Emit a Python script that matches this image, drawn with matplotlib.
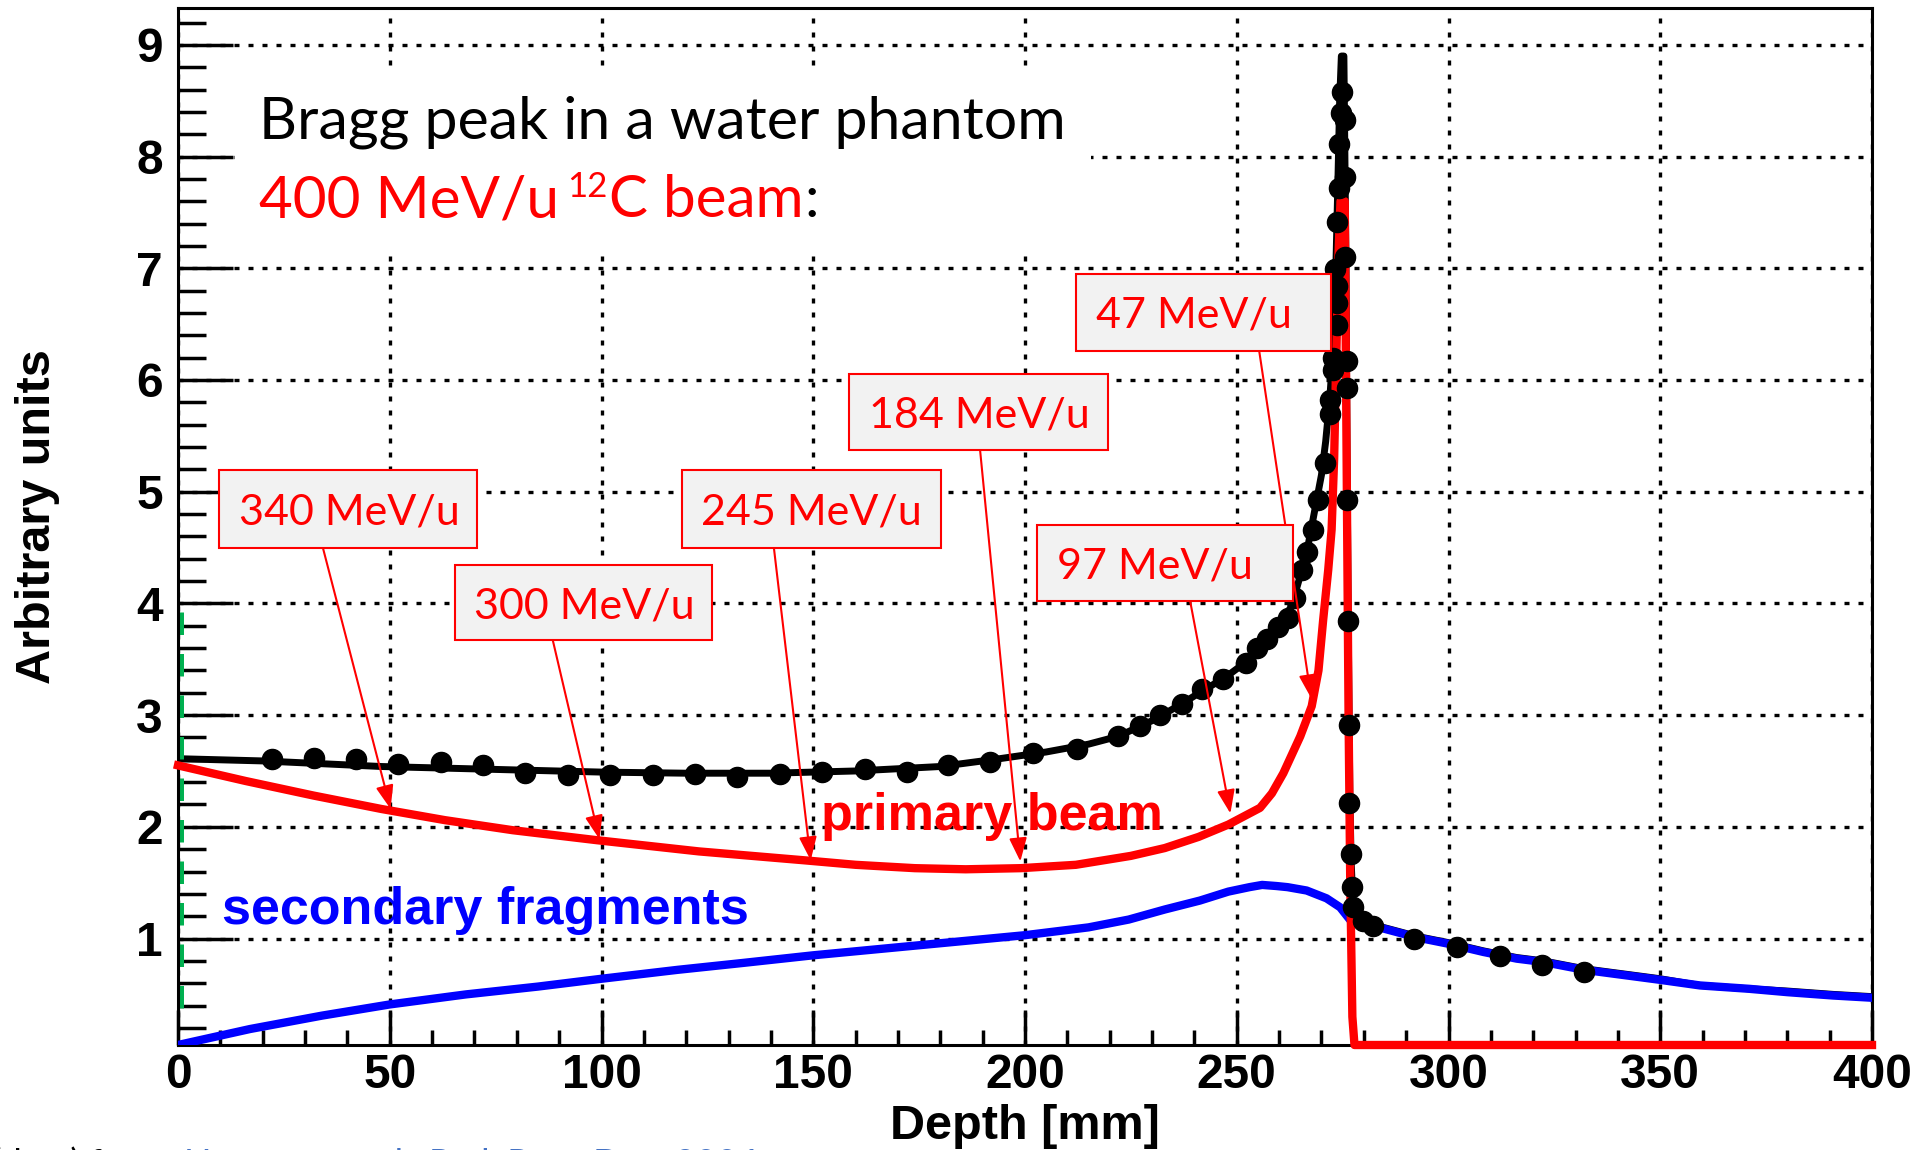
import numpy as np
import matplotlib
matplotlib.use("Agg")
import matplotlib.pyplot as plt
from matplotlib.patches import Rectangle
from matplotlib.ticker import MultipleLocator

# ---------------- data ----------------
depth_total = [0, 20, 48, 79, 100, 120, 140, 160, 180, 194, 205, 215, 222, 230, 237,
               242, 247, 252, 256, 260, 263, 265, 267, 268.5, 270, 271, 272, 272.8, 273.4,
               273.9, 274.3, 274.7, 275.3, 275.8, 276.1, 276.4, 276.7, 277.0, 277.4, 278.2,
               280, 284.6, 292.5, 300.4, 308.2, 316.1, 322.4, 332, 340, 350, 359.4, 371,
               380, 390.8, 400]
dose_total = [2.61, 2.59, 2.54, 2.51, 2.49, 2.48, 2.48, 2.50, 2.54, 2.61, 2.67, 2.74, 2.81,
              2.95, 3.10, 3.22, 3.33, 3.47, 3.63, 3.80, 3.98, 4.25, 4.55, 4.85, 5.15, 5.45,
              5.85, 6.30, 7.00, 7.80, 8.50, 8.90, 8.90, 7.00, 5.00, 3.50, 2.30, 1.70, 1.35,
              1.22, 1.15, 1.10, 1.02, 0.96, 0.89, 0.83, 0.80, 0.73, 0.69, 0.64, 0.58, 0.55,
              0.53, 0.50, 0.48]

depth_primary = [0, 16, 32, 48, 63, 79, 99, 123, 148, 160, 174, 186, 199, 212, 225, 233,
                 241, 248, 255.5, 258.3, 261, 265, 267.7, 269.3, 270.4, 271.6, 272.4, 273.0,
                 273.5, 274.0, 274.5, 275.5, 276.0, 276.4, 276.8, 277.3, 277.8, 300, 350, 400]
dose_primary = [2.55, 2.41, 2.28, 2.16, 2.06, 1.97, 1.88, 1.78, 1.70, 1.66, 1.63, 1.62, 1.63,
                1.66, 1.74, 1.81, 1.91, 2.02, 2.17, 2.30, 2.48, 2.81, 3.08, 3.40, 3.85, 4.30,
                4.66, 5.30, 6.20, 7.10, 7.60, 7.60, 5.00, 3.00, 1.50, 0.30, 0.0, 0.0, 0.0, 0.0]

depth_secondary = [0, 17, 34, 50, 68, 85, 100, 118, 133, 150, 175, 200, 215, 224.5, 233,
                   241.3, 248, 253, 256, 259.4, 262, 266.5, 271.2, 274.4, 276.7, 280, 284.6,
                   292.5, 300.4, 308.2, 316.1, 322.4, 332, 340, 350, 359.4, 371, 380, 390.8, 400]
dose_secondary = [0.04, 0.19, 0.31, 0.41, 0.50, 0.57, 0.64, 0.72, 0.78, 0.85, 0.94, 1.03,
                  1.10, 1.17, 1.26, 1.34, 1.42, 1.46, 1.48, 1.47, 1.46, 1.43, 1.36, 1.28,
                  1.17, 1.13, 1.09, 1.01, 0.95, 0.88, 0.82, 0.79, 0.72, 0.68, 0.63, 0.58,
                  0.55, 0.52, 0.49, 0.47]

depth_points = [22.1, 32.0, 42.0, 52.0, 62.0, 72.1, 81.9, 92.2, 102.0, 112.1, 122.1, 132.1,
                142.1, 152.0, 162.2, 172.1, 181.9, 191.7, 202.0, 212.2, 222.0, 227.2, 231.9,
                237.0, 241.7, 246.8, 252.2, 254.7, 257.1, 259.8, 262.2, 263.8, 265.3, 266.5,
                268.1, 269.3, 270.8, 272.0, 272.0, 272.7, 272.8, 273.6, 273.7, 273.7, 273.3,
                273.6, 274.2, 274.2, 274.5, 274.8, 275.5, 275.5, 275.5, 276.0, 276.0, 276.0,
                276.3, 276.6, 276.6, 277.0, 277.1, 277.4, 279.8, 282.2, 291.8, 301.9, 312.2,
                322.0, 332.0]
dose_points = [2.61, 2.62, 2.61, 2.56, 2.58, 2.55, 2.48, 2.46, 2.46, 2.46, 2.47, 2.45, 2.47,
               2.49, 2.52, 2.49, 2.55, 2.58, 2.66, 2.70, 2.81, 2.90, 3.00, 3.10, 3.23, 3.32,
               3.47, 3.60, 3.68, 3.79, 3.87, 4.05, 4.30, 4.46, 4.66, 4.93, 5.26, 5.70, 5.82,
               6.09, 6.20, 6.49, 6.69, 6.84, 6.99, 7.41, 7.72, 8.11, 8.39, 8.58, 8.33, 7.82,
               7.10, 6.17, 5.93, 4.93, 3.84, 2.91, 2.21, 1.76, 1.46, 1.28, 1.16, 1.11, 1.00,
               0.92, 0.84, 0.76, 0.70]

energy_labels = ["340 MeV/u", "300 MeV/u", "245 MeV/u", "184 MeV/u", "97 MeV/u", "47 MeV/u"]

x_ticks = [0, 50, 100, 150, 200, 250, 300, 350, 400]
y_ticks = [1, 2, 3, 4, 5, 6, 7, 8, 9]

# ---------------- layout / annotation geometry ----------------
# box (x0, x1, y0, y1) and arrow (start x, start y, tip x, tip y)
label_boxes = [(9.6, 70.5, 4.50, 5.19), (65.3, 126.2, 3.67, 4.34), (118.9, 180.1, 4.50, 5.19),
               (158.4, 219.6, 5.37, 6.05), (202.9, 263.4, 4.02, 4.70), (212.0, 272.2, 6.26, 6.95)]
label_arrows = [(34.2, 4.50, 50.2, 2.16), (88.5, 3.67, 99.5, 1.89), (140.7, 4.50, 149.4, 1.70),
                (189.4, 5.37, 198.9, 1.69), (239.0, 4.02, 248.5, 2.12), (255.3, 6.26, 267.6, 3.15)]

RED = "#FF0000"
BLUE = "#0000FF"
ARIAL = "Liberation Sans"
CAL = "Lato"
XLIM = (0, 400)
YLIM = (0.047, 9.33)

fig = plt.figure(figsize=(19.26, 11.5), dpi=100)
ax = fig.add_axes([178 / 1926, 105 / 1150, 1694 / 1926, 1037 / 1150])
ax.set_xlim(*XLIM)
ax.set_ylim(*YLIM)

# grid
ax.set_axisbelow(True)
ax.grid(True, which="major", color="black", linestyle=(0, (1.5, 2.7)), linewidth=2.4)

# white box behind the title (hides grid)
ax.add_patch(Rectangle((13.5, 7.12), 202.0, 1.68, facecolor="white", edgecolor="none",
                       zorder=1))

# curves
ax.plot(depth_total, dose_total, color="black", lw=5, zorder=2)
ax.plot(depth_secondary, np.maximum(dose_secondary, YLIM[0]), color=BLUE, lw=6, zorder=2.6)
ax.plot(depth_primary, np.maximum(dose_primary, YLIM[0]), color=RED, lw=6, zorder=3,
        clip_on=False)
ax.plot(depth_points, dose_points, "o", color="black", ms=14.5, mec="black", zorder=4)

# green dashed marker along the entrance
ax.plot([0.7, 0.7], [3.92, 0.32], color="#00B050", lw=3.6, dashes=(4.5, 3.8), zorder=2.4,
        clip_on=False, solid_capstyle="butt", dash_capstyle="butt")

# energy annotation boxes
cap = 0.7165 * 31 * (100 / 72) / 111.7
for lab, (x0, x1, y0, y1), (sx, sy, tx, ty) in zip(energy_labels, label_boxes, label_arrows):
    ax.annotate("", xy=(tx, ty), xytext=(sx, sy),
                arrowprops=dict(arrowstyle="-|>,head_length=0.72,head_width=0.27",
                                color=RED, lw=1.5, mutation_scale=20,
                                shrinkA=0, shrinkB=0), zorder=5)
    ax.add_patch(Rectangle((x0, y0), x1 - x0, y1 - y0, facecolor="#F2F2F2", edgecolor=RED,
                           lw=1.5, zorder=6))
    ax.text(x0 + 4.7, (y0 + y1) / 2 - cap / 2, lab, color=RED, fontsize=31, family=CAL,
            ha="left", va="baseline", zorder=7)

# title
ax.text(19.1, 8.16, "Bragg peak in a water phantom", color="black", fontsize=42.5,
        family=CAL, ha="left", va="baseline", zorder=7)
t1 = ax.text(19.1, 7.457, "400 MeV/u", color=RED, fontsize=42, family=CAL,
             ha="left", va="baseline", zorder=7)
t2 = ax.annotate("12", xy=(1, 7.64), xycoords=(t1, "data"), xytext=(6, 0),
                 textcoords="offset points", color=RED, fontsize=25, family=CAL,
                 ha="left", va="baseline", zorder=7)
t3 = ax.annotate("C beam", xy=(1, 7.457), xycoords=(t2, "data"), xytext=(1, 0),
                 textcoords="offset points", color=RED, fontsize=42, family=CAL,
                 ha="left", va="baseline", zorder=7)
ax.annotate(":", xy=(1, 7.457), xycoords=(t3, "data"), xytext=(1, 0),
            textcoords="offset points", color="black", fontsize=42, family=CAL,
            ha="left", va="baseline", zorder=7)

# curve labels
ax.text(151.9, 1.97, "primary beam", color=RED, fontsize=37.5, fontweight="bold",
        family=ARIAL, ha="left", va="baseline", zorder=7)
ax.text(10.4, 1.13, "secondary fragments", color=BLUE, fontsize=37.5, fontweight="bold",
        family=ARIAL, ha="left", va="baseline", zorder=7)

# axes styling
for sp in ax.spines.values():
    sp.set_linewidth(2.2)
    sp.set_color("black")
    sp.set_zorder(2.5)

ax.set_xticks(x_ticks)
ax.set_xticklabels([str(v) for v in x_ticks])
ax.set_yticks(y_ticks)
ax.set_yticklabels([str(v) for v in y_ticks])
ax.xaxis.set_minor_locator(MultipleLocator(10))
ax.yaxis.set_minor_locator(MultipleLocator(0.2))
ax.tick_params(axis="both", which="both", direction="in", top=False, right=False,
               color="black", width=2.5)
ax.tick_params(axis="x", which="major", length=25, pad=5.5, labelsize=34.5)
ax.tick_params(axis="x", which="minor", length=11)
ax.tick_params(axis="y", which="major", length=39.6, pad=10.8, labelsize=34.5)
ax.tick_params(axis="y", which="minor", length=20)
for lbl in ax.get_xticklabels() + ax.get_yticklabels():
    lbl.set_fontweight("bold")
    lbl.set_family(ARIAL)

ax.set_xlabel("Depth [mm]", fontsize=35, fontweight="bold", family=ARIAL)
ax.xaxis.set_label_coords(0.5, -0.079)
ax.xaxis.label.set_va("center")
ax.set_ylabel("Arbitrary units", fontsize=35, fontweight="bold", family=ARIAL)
ax.yaxis.set_label_coords(-0.0832, 0.510)
ax.yaxis.label.set_va("center")
ax.yaxis.label.set_ha("center")

# source line (mostly cut off at the bottom edge, as in the reference)
fig.text(165 / 1926, -0.022, "(data) from", color="black", fontsize=26, family=CAL,
         ha="right", va="baseline")
fig.text(184 / 1926, -0.022, "Haettner et al., Rad. Prot. Dos. 2006", color="#4472C4",
         fontsize=26, family=CAL, ha="left", va="baseline")

fig.savefig("out.png", dpi=100)
